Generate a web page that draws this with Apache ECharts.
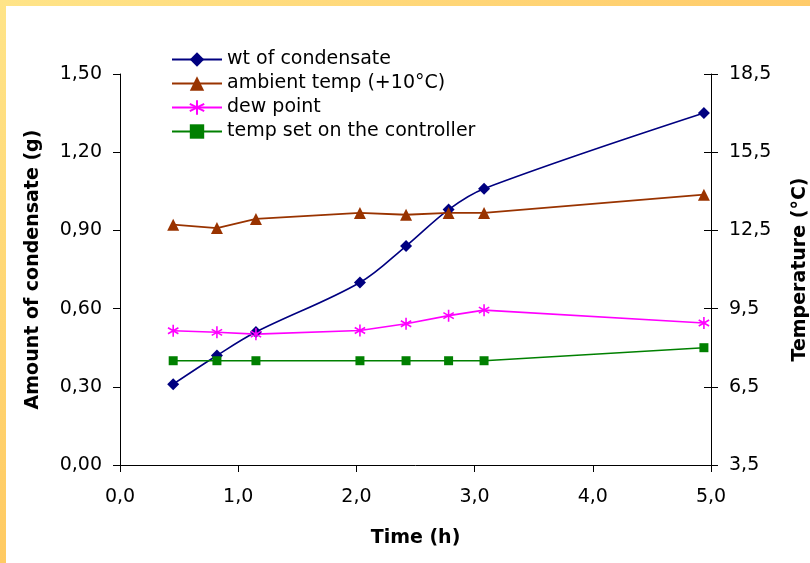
<!DOCTYPE html>
<html>
<head>
<meta charset="utf-8">
<script src="https://cdn.jsdelivr.net/npm/echarts@6/dist/echarts.min.js"></script>
<style>
  html, body { margin: 0; padding: 0; background: #fff; }
  #wrap { position: relative; width: 810px; height: 563px; overflow: hidden; background: #fff; }
  #topband { position: absolute; left: 0; top: 0; width: 810px; height: 6px; background: linear-gradient(to right, #FFE488, #FFCB6A); }
  #leftband { position: absolute; left: 0; top: 0; width: 6px; height: 563px; background: linear-gradient(to bottom, #FFE488, #FFCA62); }
  #chart { position: absolute; left: 0; top: 0; width: 810px; height: 563px; }
</style>
</head>
<body>
<div id="wrap">
  <div id="topband"></div>
  <div id="leftband"></div>
  <div id="chart"></div>
</div>
<script>
// ---- data ----
const time = [0.45, 0.82, 1.15, 2.03, 2.42, 2.78, 3.08, 4.94];
const condensate = [0.31, 0.42, 0.51, 0.70, 0.84, 0.98, 1.06, 1.35];
const ambientTemp = [12.72, 12.59, 12.94, 13.17, 13.10, 13.17, 13.17, 13.87];
const dewPoint = [8.65, 8.59, 8.52, 8.66, 8.92, 9.23, 9.44, 8.95];
const controllerTemp = [7.5, 7.5, 7.5, 7.5, 7.5, 7.5, 7.5, 8.0];
const seriesNames = ['wt of condensate', 'ambient temp (+10\u00B0C)', 'dew point', 'temp set on the controller'];
const xTitle = 'Time (h)';
const yLeftTitle = 'Amount of condensate (g)';
const yRightTitle = 'Temperature (\u00B0C)';

function pairs(xs, ys) { return xs.map((x, i) => [x, ys[i]]); }
const comma = (d) => (v) => v.toFixed(d).replace('.', ',');

const FONT = 'DejaVu Sans';
const starPath = 'path://M5,0L5,10M0.67,2.5L9.33,7.5M0.67,7.5L9.33,2.5';

const chart = echarts.init(document.getElementById('chart'), null, { renderer: 'canvas' });
const axisLineStyle = { color: '#000', width: 1 };
const labelStyle = { color: '#000', fontFamily: FONT, fontSize: 19 };
const nameStyle = { color: '#000', fontFamily: FONT, fontSize: 19, fontWeight: 'bold' };

chart.setOption({
  animation: false,
  backgroundColor: 'transparent',
  grid: { left: 120, right: 99, top: 74, bottom: 98, containLabel: false, outerBoundsMode: 'none' },
  legend: {
    orient: 'vertical',
    left: 171,
    top: 50,
    itemWidth: 50,
    itemHeight: 18,
    itemGap: 5,
    padding: 0,
    textStyle: { color: '#000', fontFamily: FONT, fontSize: 19, lineHeight: 18 },
    data: seriesNames
  },
  xAxis: {
    type: 'value',
    min: 0, max: 5, interval: 1,
    name: xTitle,
    nameLocation: 'middle',
    nameGap: 64,
    nameTextStyle: nameStyle,
    axisLine: { show: true, lineStyle: axisLineStyle },
    axisTick: { show: true, length: 7, inside: false, lineStyle: axisLineStyle },
    axisLabel: Object.assign({ margin: 23, formatter: comma(1) }, labelStyle),
    splitLine: { show: false }
  },
  yAxis: [
    {
      type: 'value',
      position: 'left',
      min: 0, max: 1.5, interval: 0.3,
      name: yLeftTitle,
      nameLocation: 'middle',
      nameRotate: 90,
      nameGap: 77,
      nameTextStyle: nameStyle,
      axisLine: { show: true, lineStyle: axisLineStyle },
      axisTick: { show: true, length: 7, inside: false, lineStyle: axisLineStyle },
      axisLabel: Object.assign({ margin: 18, formatter: comma(2) }, labelStyle),
      splitLine: { show: false }
    },
    {
      type: 'value',
      position: 'right',
      min: 3.5, max: 18.5, interval: 3,
      name: yRightTitle,
      nameLocation: 'middle',
      nameRotate: 90,
      nameGap: 80,
      nameTextStyle: nameStyle,
      axisLine: { show: true, lineStyle: axisLineStyle },
      axisTick: { show: true, length: 7, inside: false, lineStyle: axisLineStyle },
      axisLabel: Object.assign({ margin: 18, formatter: comma(1) }, labelStyle),
      splitLine: { show: false }
    },
    {
      type: 'value',
      position: 'right',
      min: 3.5, max: 18.5, interval: 3,
      axisLine: { show: false },
      axisTick: { show: true, length: 7, inside: true, lineStyle: axisLineStyle },
      axisLabel: { show: false },
      splitLine: { show: false }
    }
  ],
  series: [
    {
      name: seriesNames[0], type: 'line', yAxisIndex: 0,
      data: pairs(time, condensate),
      smooth: 0.35,
      symbol: 'diamond', symbolSize: 12,
      lineStyle: { color: '#000080', width: 1.6 },
      itemStyle: { color: '#000080' }
    },
    {
      name: seriesNames[1], type: 'line', yAxisIndex: 1,
      data: pairs(time, ambientTemp),
      symbol: 'triangle', symbolSize: 12,
      lineStyle: { color: '#993300', width: 1.8 },
      itemStyle: { color: '#993300' }
    },
    {
      name: seriesNames[2], type: 'line', yAxisIndex: 1,
      data: pairs(time, dewPoint),
      symbol: starPath, symbolSize: 12, symbolKeepAspect: true,
      lineStyle: { color: '#FF00FF', width: 1.6 },
      itemStyle: { color: '#FF00FF', borderColor: '#FF00FF', borderWidth: 1.6 }
    },
    {
      name: seriesNames[3], type: 'line', yAxisIndex: 1,
      data: pairs(time, controllerTemp),
      symbol: 'rect', symbolSize: 9,
      lineStyle: { color: '#008000', width: 1.6 },
      itemStyle: { color: '#008000' }
    }
  ]
});
</script>
</body>
</html>
